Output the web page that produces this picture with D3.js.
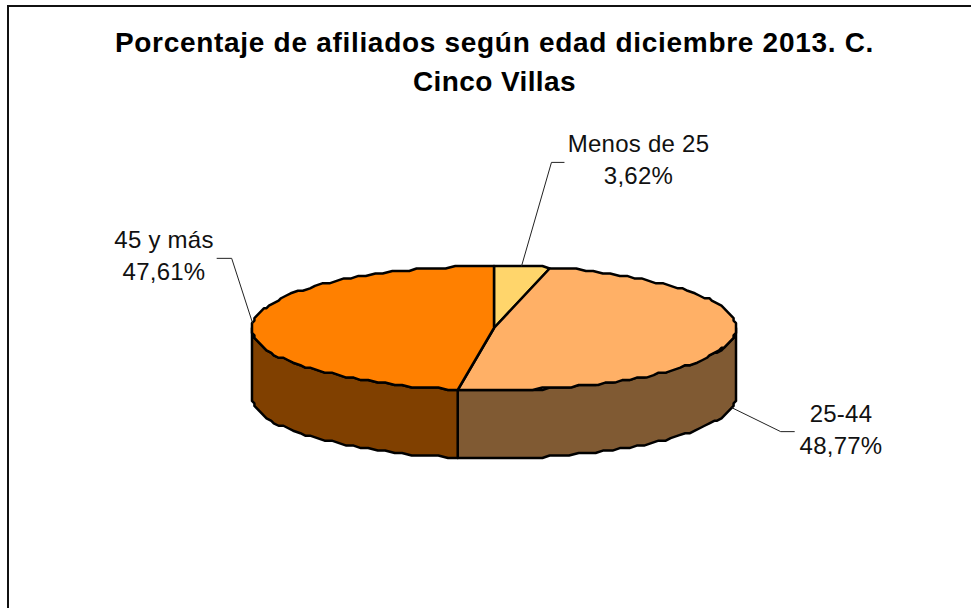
<!DOCTYPE html>
<html>
<head>
<meta charset="utf-8">
<script src="https://cdn.jsdelivr.net/npm/d3@7"></script>
<style>
  html, body { margin: 0; padding: 0; background: #fff; overflow: hidden; }
  text { font-family: "Liberation Sans", Arial, sans-serif; fill: #111; }
  .title { font-size: 28px; font-weight: bold; fill: #000; text-anchor: middle; }
  .label { font-size: 24px; text-anchor: middle; letter-spacing: 0.25px; }
</style>
</head>
<body>
<div id="chart"></div>
<script>
// data
const categories = ['Menos de 25', '25-44', '45 y más'];
const values = [3.62, 48.77, 47.61];
const titleLines = ['Porcentaje de afiliados según edad diciembre 2013. C.', 'Cinco Villas'];

// colours per slice
const topColors = ['#FFD56B', '#FFB066', '#FF8000'];
const sideColors = ['#806B36', '#805A33', '#804000'];

const width = 971, height = 608;
const depth = 68;
const step = Math.PI / 80;

// projection of the tilted unit circle
const xScale = d3.scaleLinear().domain([-1, 1]).range([252, 736]);
const yScale = d3.scaleLinear().domain([-1, 1]).range([266, 390]);

const px = a => xScale(Math.sin(a));
const py = a => yScale(-Math.cos(a));

// the original outline is slightly stepped, as if drawn on a coarse grid
const snapX = x => 252 + Math.round((x - 252) / 2.42) * 2.42;
const snapY = y => 266 + Math.round((y - 266) / 2.48) * 2.48;

const svg = d3.select('#chart').append('svg')
  .attr('width', width)
  .attr('height', height);

// frame, only top and left fall inside the picture
svg.append('path')
  .attr('d', `M8,${height}V6H${width}`)
  .attr('fill', 'none')
  .attr('stroke', '#111')
  .attr('stroke-width', 2);

const slices = d3.pie().sort(null).startAngle(0).endAngle(2 * Math.PI)(values);

function arcPoints(a0, a1) {
  const pts = d3.range(a0, a1, step).map(a => [snapX(px(a)), snapY(py(a))]);
  pts.push([snapX(px(a1)), snapY(py(a1))]);
  return pts;
}

const line = d3.line();

// walls: only the front half (90deg to 270deg clockwise from top) shows
const wallFrom = Math.PI / 2, wallTo = 3 * Math.PI / 2;
slices.forEach((s, i) => {
  const a0 = Math.max(s.startAngle, wallFrom);
  const a1 = Math.min(s.endAngle, wallTo);
  if (a1 <= a0) return;
  const upper = arcPoints(a0, a1);
  const lower = upper.map(p => [p[0], p[1] + depth]).reverse();
  svg.append('path')
    .attr('d', line(upper.concat(lower)) + 'Z')
    .attr('fill', sideColors[i])
    .attr('stroke', '#000')
    .attr('stroke-width', 2.5)
    .attr('stroke-linejoin', 'round');
});

// top faces
const center = [xScale(0), yScale(0)];
slices.forEach((s, i) => {
  svg.append('path')
    .attr('d', line([center].concat(arcPoints(s.startAngle, s.endAngle))) + 'Z')
    .attr('fill', topColors[i])
    .attr('stroke', '#000')
    .attr('stroke-width', 2.5)
    .attr('stroke-linejoin', 'round');
});

// title
const titleSpacing = ['0.7px', '0.4px'];
titleLines.forEach((t, i) => {
  svg.append('text')
    .attr('class', 'title')
    .attr('x', 494.5)
    .attr('y', 52 + i * 39)
    .style('letter-spacing', titleSpacing[i])
    .text(t);
});

// labels and leader lines
const labelPos = [[638.5, 152], [841, 422], [164, 248]];
const elbows = [[30, -104, 13], [49, 24, 14], [-21, -65, -15]];
const onWall = [false, true, false];

slices.forEach((s, i) => {
  const mid = (s.startAngle + s.endAngle) / 2;
  const ax = px(mid);
  const ay = py(mid) + (onWall[i] ? depth : 0);
  const e = elbows[i];
  svg.append('path')
    .attr('d', line([[ax, ay], [ax + e[0], ay + e[1]], [ax + e[0] + e[2], ay + e[1]]]))
    .attr('fill', 'none')
    .attr('stroke', '#222')
    .attr('stroke-width', 1);

  const pct = values[i].toFixed(2).replace('.', ',') + '%';
  [categories[i], pct].forEach((t, j) => {
    svg.append('text')
      .attr('class', 'label')
      .attr('x', labelPos[i][0])
      .attr('y', labelPos[i][1] + j * 32)
      .text(t);
  });
});
</script>
</body>
</html>
